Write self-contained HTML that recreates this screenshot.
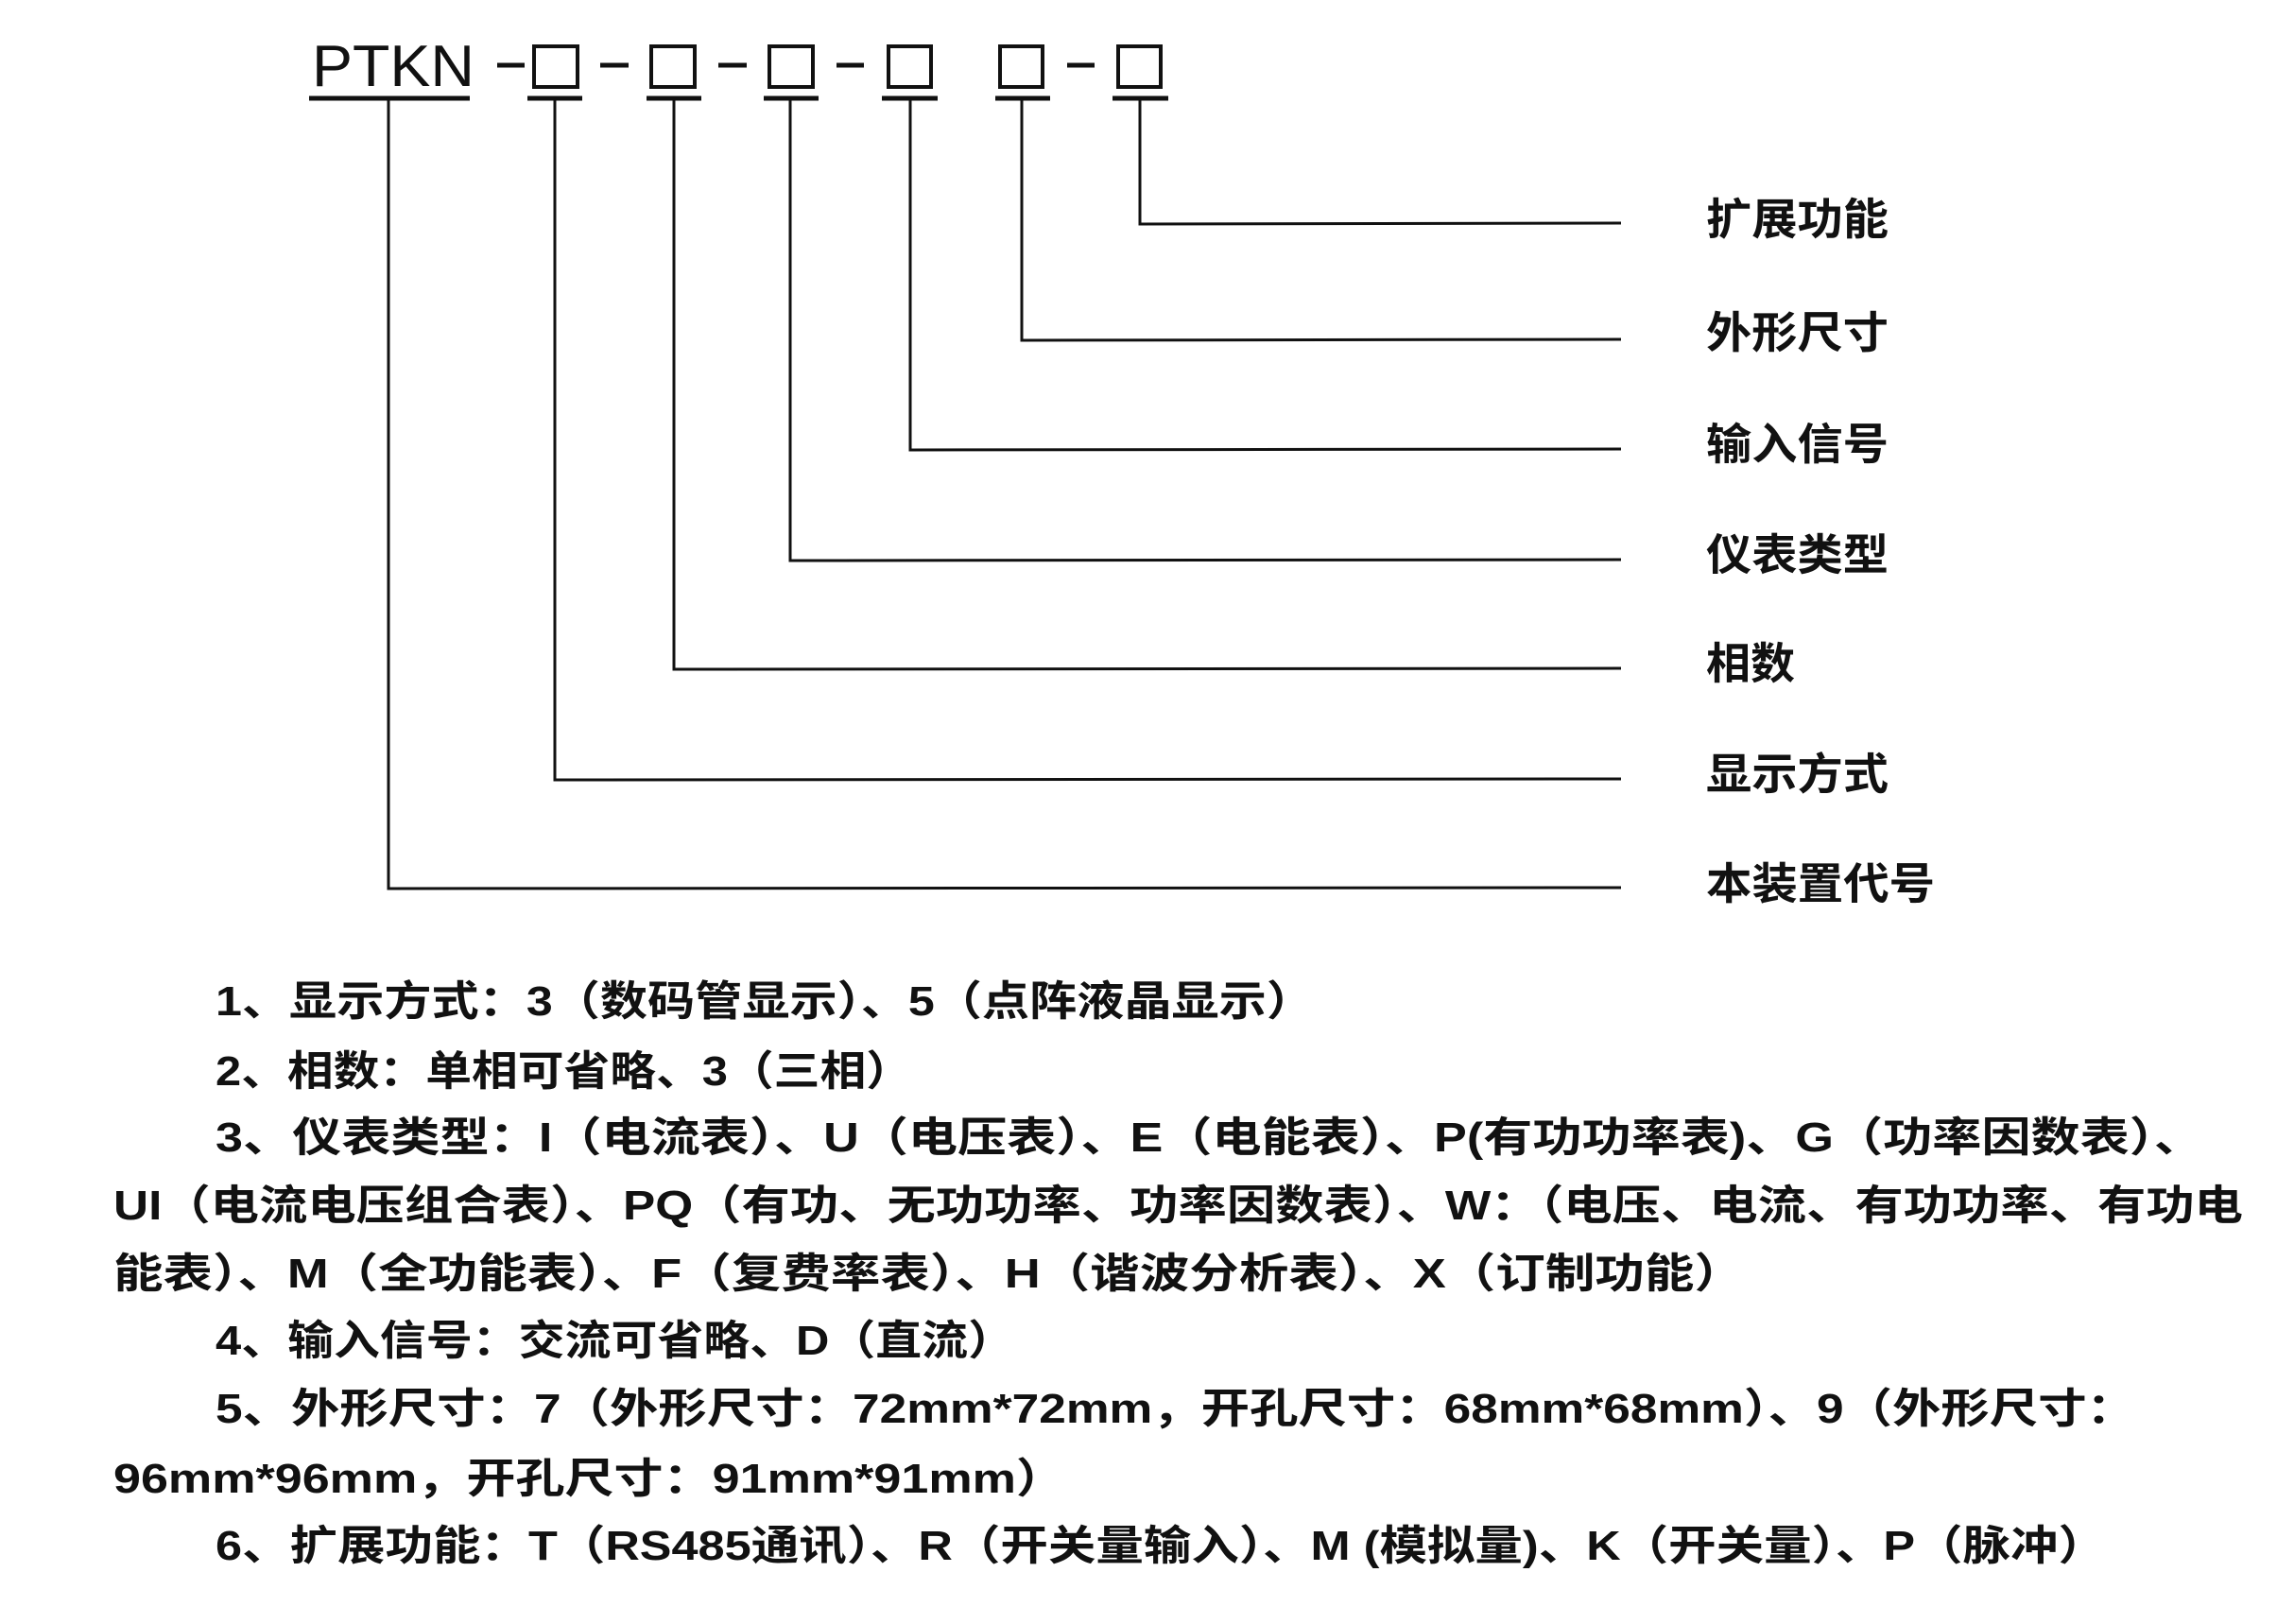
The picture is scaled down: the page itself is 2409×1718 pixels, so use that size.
<!DOCTYPE html>
<html><head><meta charset="utf-8"><style>
html,body{margin:0;padding:0;background:#fff;}
svg{display:block}
text{font-family:"Liberation Sans","Noto Sans CJK SC",sans-serif;fill:#111;}
</style></head><body>
<svg width="2409" height="1718" viewBox="0 0 2409 1718" xmlns="http://www.w3.org/2000/svg">
<g stroke="#111" fill="none">
<g stroke-width="4">
<rect x="565" y="49" width="46" height="43"/>
<rect x="689" y="49" width="46" height="43"/>
<rect x="814" y="49" width="46" height="43"/>
<rect x="940" y="49" width="45" height="43"/>
<rect x="1058" y="49" width="45" height="43"/>
<rect x="1183" y="49" width="45" height="43"/>
</g>
<g stroke-width="5">
<line x1="526" y1="69" x2="555" y2="69"/>
<line x1="635" y1="69" x2="665" y2="69"/>
<line x1="760" y1="69" x2="790" y2="69"/>
<line x1="885" y1="69" x2="914" y2="69"/>
<line x1="1129" y1="69" x2="1158" y2="69"/>
<line x1="327" y1="104" x2="497" y2="104"/>
<line x1="558" y1="104" x2="616" y2="104"/>
<line x1="684" y1="104" x2="742" y2="104"/>
<line x1="808" y1="104" x2="866" y2="104"/>
<line x1="933" y1="104" x2="992" y2="104"/>
<line x1="1053" y1="104" x2="1111" y2="104"/>
<line x1="1177" y1="104" x2="1236" y2="104"/>
</g>
<g stroke-width="3">
<polyline points="1206,104 1206,237 1715,236"/>
<polyline points="1081,104 1081,360 1715,359"/>
<polyline points="963,104 963,476 1715,475"/>
<polyline points="836,104 836,593 1715,592"/>
<polyline points="713,104 713,708 1715,707"/>
<polyline points="587,104 587,825 1715,824"/>
<polyline points="411,104 411,940 1715,939"/>
</g>
</g>
<text x="330" y="91" font-size="62" textLength="172" lengthAdjust="spacingAndGlyphs">PTKN</text>
<g font-size="46" font-weight="bold">
<text x="1805" y="248" textLength="193" lengthAdjust="spacingAndGlyphs">扩展功能</text>
<text x="1805" y="368" textLength="193" lengthAdjust="spacingAndGlyphs">外形尺寸</text>
<text x="1805" y="486" textLength="193" lengthAdjust="spacingAndGlyphs">输入信号</text>
<text x="1805" y="603" textLength="193" lengthAdjust="spacingAndGlyphs">仪表类型</text>
<text x="1805" y="718" textLength="94" lengthAdjust="spacingAndGlyphs">相数</text>
<text x="1805" y="835" textLength="193" lengthAdjust="spacingAndGlyphs">显示方式</text>
<text x="1805" y="951" textLength="242" lengthAdjust="spacingAndGlyphs">本装置代号</text>
</g>
<g font-size="44" font-weight="bold">
<text x="228" y="1074" textLength="1162" lengthAdjust="spacingAndGlyphs">1、显示方式：3（数码管显示）、5（点阵液晶显示）</text>
<text x="228" y="1148" textLength="737" lengthAdjust="spacingAndGlyphs">2、相数：单相可省略、3（三相）</text>
<text x="228" y="1218" textLength="2103" lengthAdjust="spacingAndGlyphs">3、仪表类型：I（电流表）、U（电压表）、E（电能表）、P(有功功率表)、G（功率因数表）、</text>
<text x="120" y="1290" textLength="2253" lengthAdjust="spacingAndGlyphs">UI（电流电压组合表）、PQ（有功、无功功率、功率因数表）、W：（电压、电流、有功功率、有功电</text>
<text x="120" y="1362" textLength="1725" lengthAdjust="spacingAndGlyphs">能表）、M（全功能表）、F（复费率表）、H（谐波分析表）、X（订制功能）</text>
<text x="228" y="1433" textLength="845" lengthAdjust="spacingAndGlyphs">4、输入信号：交流可省略、D（直流）</text>
<text x="228" y="1505" textLength="2031" lengthAdjust="spacingAndGlyphs">5、外形尺寸：7（外形尺寸：72mm*72mm，开孔尺寸：68mm*68mm）、9（外形尺寸：</text>
<text x="120" y="1579" textLength="1007" lengthAdjust="spacingAndGlyphs">96mm*96mm，开孔尺寸：91mm*91mm）</text>
<text x="228" y="1650" textLength="2000" lengthAdjust="spacingAndGlyphs">6、扩展功能：T（RS485通讯）、R（开关量输入）、M (模拟量)、K（开关量）、P（脉冲）</text>
</g>
</svg>
</body></html>
